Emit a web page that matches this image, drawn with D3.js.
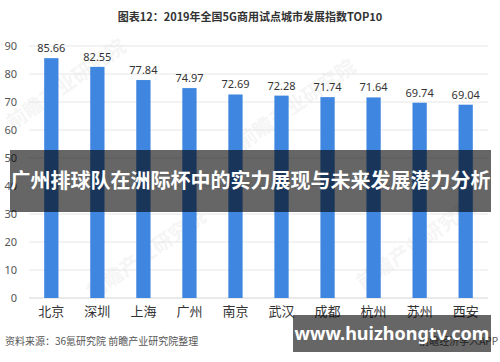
<!DOCTYPE html>
<html>
<head>
<meta charset="utf-8">
<script src="https://cdn.jsdelivr.net/npm/d3@7"></script>
<style>
  body { margin: 0; background: #fff; }
  svg { display: block; font-family: "Noto Sans CJK SC", "Noto Sans", sans-serif; }
</style>
</head>
<body>
<div id="chart"></div>
<script>
const cities = ['北京', '深圳', '上海', '广州', '南京', '武汉', '成都', '杭州', '苏州', '西安'];
const scores = [85.66, 82.55, 77.84, 74.97, 72.69, 72.28, 71.74, 71.64, 69.74, 69.04];
const yTicks = [0, 10, 20, 30, 40, 50, 60, 70, 80, 90];

const W = 500, H = 362;
const margin = { top: 46, right: 12, bottom: 64, left: 29 };
const width = W - margin.left - margin.right;
const height = H - margin.top - margin.bottom;

const svg = d3.select('#chart')
    .append('svg')
    .attr('width', W)
    .attr('height', H);

// faint background watermarks
const marks = [[70, 90], [300, 110], [150, 260], [420, 250]];
svg.selectAll('.wm')
    .data(marks)
    .enter()
    .append('text')
    .attr('class', 'wm')
    .attr('transform', d => `translate(${d[0]},${d[1]}) rotate(-35)`)
    .attr('text-anchor', 'middle')
    .style('font-size', '20px')
    .style('font-weight', 'bold')
    .style('fill', '#000')
    .style('opacity', 0.035)
    .text('前瞻产业研究院');

svg.append('text')
    .attr('x', W / 2)
    .attr('y', 21)
    .attr('text-anchor', 'middle')
    .style('font-size', '11px')
    .style('font-weight', 'bold')
    .style('fill', '#333')
    .text('图表12：2019年全国5G商用试点城市发展指数TOP10');

const g = svg.append('g')
    .attr('transform', `translate(${margin.left},${margin.top})`);

const x = d3.scaleBand().domain(cities).range([0, width]).paddingInner(0.69).paddingOuter(0.33);
const y = d3.scaleLinear().domain([0, 90]).range([height, 0]);

// grid
g.selectAll('.grid')
    .data(yTicks)
    .enter()
    .append('line')
    .attr('x1', 0)
    .attr('x2', width)
    .attr('y1', d => y(d))
    .attr('y2', d => y(d))
    .style('stroke', d => d === 0 ? '#d4d4d4' : '#e6e6e6')
    .style('stroke-width', 1);

const yAxis = d3.axisLeft(y).tickValues(yTicks).tickSize(0).tickPadding(12);
g.append('g').call(yAxis)
    .call(a => a.select('.domain').remove())
    .selectAll('text')
    .style('font-size', '11px')
    .style('fill', '#555')
    .style('font-family', '"Noto Sans", sans-serif');

g.selectAll('.bar')
    .data(cities)
    .enter()
    .append('rect')
    .attr('x', d => x(d))
    .attr('y', (d, i) => y(scores[i]))
    .attr('width', x.bandwidth())
    .attr('height', (d, i) => height - y(scores[i]))
    .style('fill', '#3f86e0');

g.selectAll('.val')
    .data(cities)
    .enter()
    .append('text')
    .attr('x', d => x(d) + x.bandwidth() / 2)
    .attr('y', (d, i) => y(scores[i]) - 6)
    .attr('text-anchor', 'middle')
    .style('font-size', '11px')
    .style('fill', '#333')
    .style('font-family', '"Noto Sans", sans-serif')
    .text((d, i) => scores[i].toFixed(2));

const xAxis = d3.axisBottom(x).tickSize(0).tickPadding(9);
g.append('g')
    .attr('transform', `translate(0,${height})`)
    .call(xAxis)
    .call(a => a.select('.domain').remove())
    .selectAll('text')
    .style('font-size', '13px')
    .style('fill', '#333')
    .style('font-family', '"Noto Sans CJK SC", sans-serif');

svg.append('text')
    .attr('x', 5)
    .attr('y', 345)
    .style('font-size', '10px')
    .style('fill', '#555')
    .text('资料来源：36氪研究院 前瞻产业研究院整理');

svg.append('text')
    .attr('x', 498)
    .attr('y', 345)
    .attr('text-anchor', 'end')
    .style('font-size', '10px')
    .style('fill', '#555')
    .text('前瞻经济学人APP');

// overlay banner
svg.append('rect')
    .attr('x', 10).attr('y', 150)
    .attr('width', 481).attr('height', 62)
    .style('fill', 'rgba(0,0,0,0.6)');

svg.append('text')
    .attr('x', 250.5)
    .attr('y', 188)
    .attr('text-anchor', 'middle')
    .style('font-size', '20px')
    .style('font-weight', 'bold')
    .style('fill', '#fff')
    .text('广州排球队在洲际杯中的实力展现与未来发展潜力分析');

// site box
svg.append('rect')
    .attr('x', 293).attr('y', 315)
    .attr('width', 198).attr('height', 37)
    .style('fill', 'rgba(0,0,0,0.6)');

svg.append('text')
    .attr('x', 392)
    .attr('y', 340)
    .attr('text-anchor', 'middle')
    .style('font-size', '18px')
    .style('font-weight', 'bold')
    .style('fill', '#fff')
    .style('font-family', '"Noto Sans", sans-serif')
    .text('www.huizhongtv.com');
</script>
</body>
</html>
